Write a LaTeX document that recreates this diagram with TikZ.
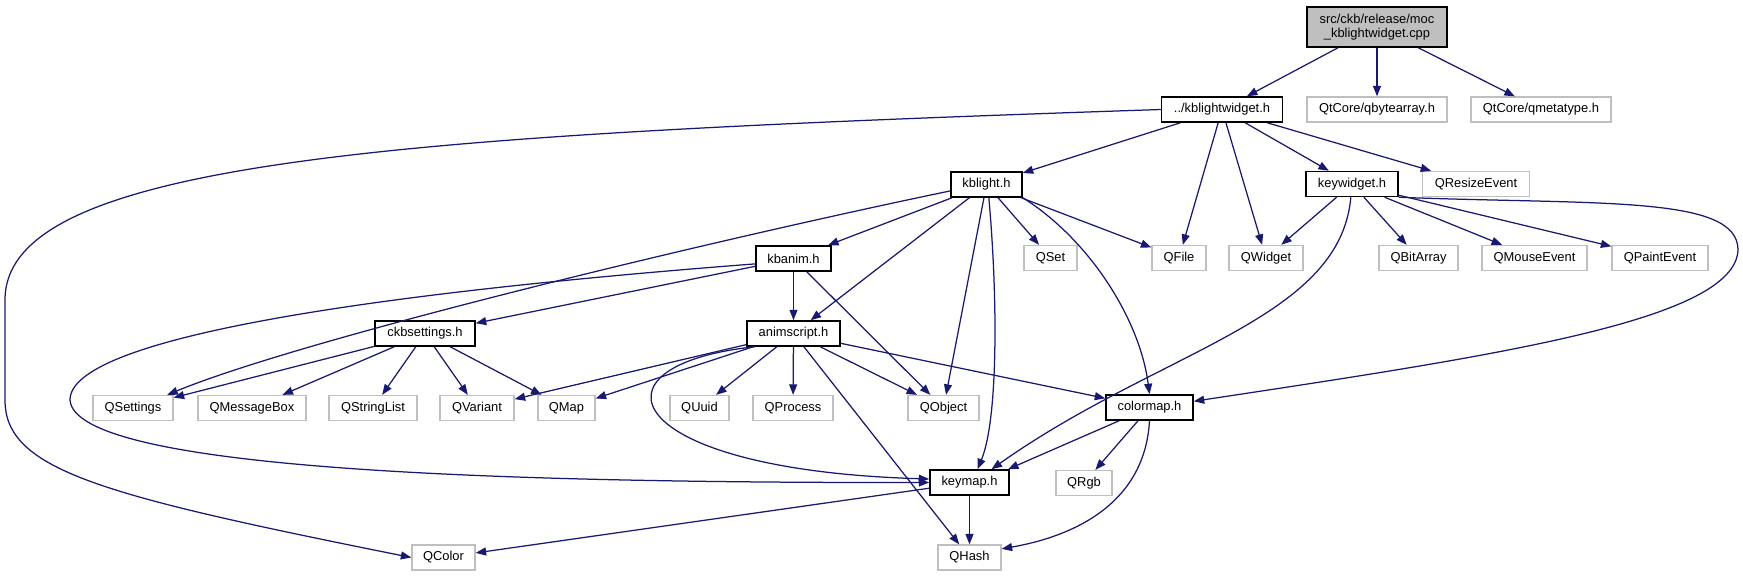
\documentclass[tikz,border=0pt]{standalone}
\usepackage{fontspec}
\setmainfont{Liberation Sans}
\usepackage{tikz}
\usetikzlibrary{arrows.meta,positioning}
\definecolor{depblue}{RGB}{25,25,112}
\definecolor{extgray}{RGB}{191,191,191}

\begin{document}
\begin{tikzpicture}[
    x=1pt, y=-1pt,
    every node/.style={font=\fontsize{12.9}{14}\selectfont, inner sep=0pt, minimum height=25pt},
    file style/.style={rectangle, draw=black, line width=1.5pt, fill=white},
    ext style/.style={rectangle, draw=extgray, line width=1.3pt, fill=white},
    root style/.style={rectangle, draw=black, line width=1.5pt, fill=extgray, minimum height=40pt, align=center},
    dep/.style={draw=depblue, line width=1.25pt, -{Triangle[length=10.5pt,width=8pt]}}
]
\useasboundingbox (0,0) rectangle (1743,576);

\node[root style, minimum width=140pt] (moc) at (1377,27) {src/ckb/release/moc\\\_kblightwidget.cpp};
\node[file style, minimum width=121pt] (kbw) at (1222,109.5) {../kblightwidget.h};
\node[ext style, minimum width=140pt] (qbytearray) at (1377,109.5) {QtCore/qbytearray.h};
\node[ext style, minimum width=140pt] (qmetatype) at (1541,109.5) {QtCore/qmetatype.h};
\node[file style, minimum width=71pt] (kblight) at (986.5,184.5) {kblight.h};
\node[file style, minimum width=92pt] (keywid) at (1352,184) {keywidget.h};
\node[ext style, minimum width=107pt] (qresize) at (1476,184) {QResizeEvent};
\node[file style, minimum width=75pt] (kbanim) at (793.5,258.5) {kbanim.h};
\node[ext style, minimum width=53pt] (qset) at (1050.5,258) {QSet};
\node[ext style, minimum width=54pt] (qfile) at (1179,258) {QFile};
\node[ext style, minimum width=74pt] (qwidget) at (1266,258) {QWidget};
\node[ext style, minimum width=79pt] (qbitarray) at (1418.5,258) {QBitArray};
\node[ext style, minimum width=105pt] (qmouse) at (1534.5,258) {QMouseEvent};
\node[ext style, minimum width=96pt] (qpaint) at (1660,258) {QPaintEvent};
\node[file style, minimum width=100pt] (ckbset) at (425,333.5) {ckbsettings.h};
\node[file style, minimum width=93pt] (anim) at (793.5,333.5) {animscript.h};
\node[ext style, minimum width=80pt] (qsettings) at (133,408) {QSettings};
\node[ext style, minimum width=108pt] (qmsgbox) at (252,408) {QMessageBox};
\node[ext style, minimum width=88pt] (qstrlist) at (373,408) {QStringList};
\node[ext style, minimum width=74pt] (qvariant) at (477,408) {QVariant};
\node[ext style, minimum width=57pt] (qmap) at (566.5,408) {QMap};
\node[ext style, minimum width=59pt] (quuid) at (699.5,408) {QUuid};
\node[ext style, minimum width=80pt] (qprocess) at (793,408) {QProcess};
\node[ext style, minimum width=71pt] (qobject) at (943.5,408) {QObject};
\node[file style, minimum width=87pt] (cmap) at (1149.5,407.5) {colormap.h};
\node[file style, minimum width=79pt] (keymap) at (969.5,482.5) {keymap.h};
\node[ext style, minimum width=56pt] (qrgb) at (1084,483) {QRgb};
\node[ext style, minimum width=63pt] (qcolor) at (443.5,557.5) {QColor};
\node[ext style, minimum width=63pt] (qhash) at (969.5,557.5) {QHash};

\draw[dep] (moc) -- (kbw);
\draw[dep] (moc) -- (qbytearray);
\draw[dep] (moc) -- (qmetatype);
\draw[dep] (kbw.west) .. controls (400,135) and (5,160) .. (5,300) -- (5,400) .. controls (5,470) and (100,495) .. (qcolor.west);
\draw[dep] (kbw) -- (kblight);
\draw[dep] (kbw) -- (qfile);
\draw[dep] (kbw) -- (qwidget);
\draw[dep] (kbw) -- (keywid);
\draw[dep] (kbw) -- (qresize);
\draw[dep] (kblight.190) .. controls (700,243) and (300,340) .. (qsettings.21);
\draw[dep] (kblight) -- (kbanim);
\draw[dep] (kblight) -- (anim);
\draw[dep] (kblight) -- (qobject);
\draw[dep] (kblight.-80) .. controls (998,300) and (998,420) .. (keymap.59);
\draw[dep] (kblight) -- (qset);
\draw[dep] (kblight) -- (qfile);
\draw[dep] (kblight.-20) .. controls (1090,240) and (1140,320) .. (cmap.north);
\draw[dep] (kbanim) -- (ckbset);
\draw[dep] (kbanim.188) .. controls (350,295) and (70,340) .. (70,400) .. controls (75,470) and (500,483) .. (keymap.west);
\draw[dep] (kbanim) -- (anim);
\draw[dep] (kbanim) -- (qobject);
\draw[dep] (ckbset) -- (qsettings);
\draw[dep] (ckbset) -- (qmsgbox);
\draw[dep] (ckbset) -- (qstrlist);
\draw[dep] (ckbset) -- (qvariant);
\draw[dep] (ckbset) -- (qmap);
\draw[dep] (anim) -- (qvariant);
\draw[dep] (anim) -- (qmap);
\draw[dep] (anim.199) .. controls (580,365) and (620,470) .. (keymap.175);
\draw[dep] (anim) -- (quuid);
\draw[dep] (anim) -- (qprocess);
\draw[dep] (anim) -- (qhash);
\draw[dep] (anim) -- (qobject);
\draw[dep] (anim) -- (cmap);
\draw[dep] (keywid) -- (qwidget);
\draw[dep] (keywid.-95) .. controls (1340,320) and (1160,350) .. (keymap.31);
\draw[dep] (keywid) -- (qbitarray);
\draw[dep] (keywid) -- (qmouse);
\draw[dep] (keywid) -- (qpaint);
\draw[dep] (keywid.south east) .. controls (1600,205) and (1738,195) .. (1738,250) .. controls (1735,320) and (1500,355) .. (cmap.8);
\draw[dep] (cmap) -- (keymap.19);
\draw[dep] (cmap) -- (qrgb);
\draw[dep] (cmap.south) .. controls (1145,500) and (1080,535) .. (qhash.15);
\draw[dep] (keymap) -- (qcolor);
\draw[dep] (keymap) -- (qhash);
\end{tikzpicture}
\end{document}
